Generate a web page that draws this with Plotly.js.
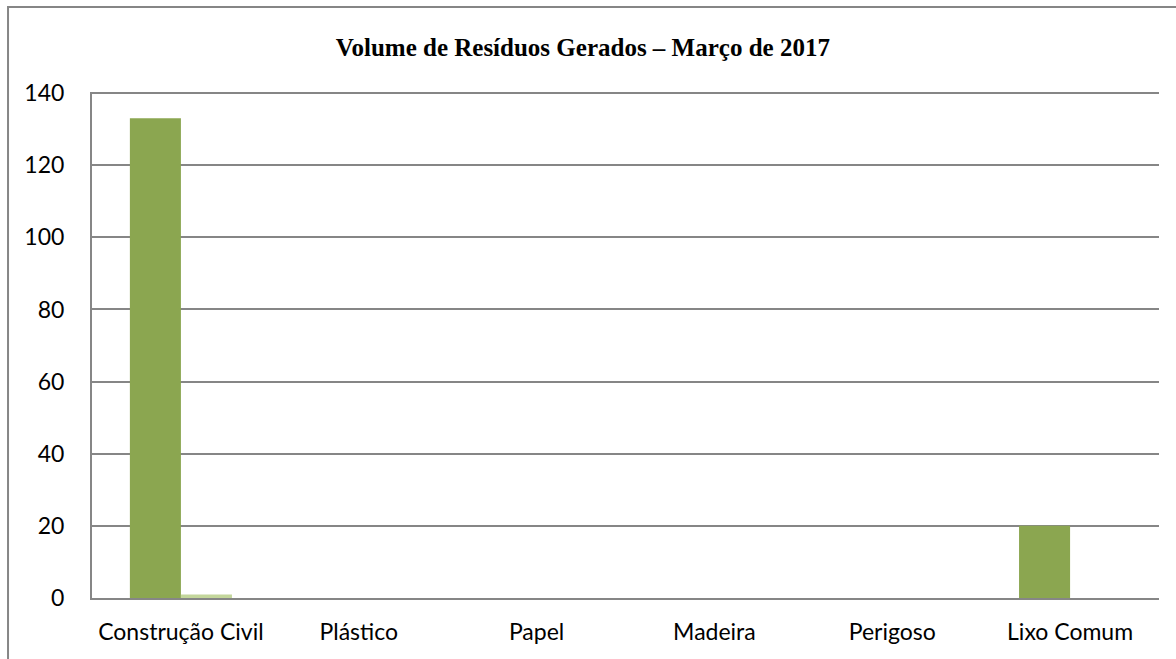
<!DOCTYPE html>
<html>
<head>
<meta charset="utf-8">
<script src="https://cdn.plot.ly/plotly-3.0.1.min.js"></script>
<style>html,body{margin:0;padding:0;background:#fff;}#chart{width:1176px;height:659px;}</style>
</head>
<body>
<div id="chart"></div>
<script>
const categories = ["Construção Civil", "Plástico", "Papel", "Madeira", "Perigoso", "Lixo Comum"];
const seriesA = [133, 0, 0, 0, 0, 20];
const seriesB = [1, 0, 0, 0, 0, 0];
const yTicks = [0, 20, 40, 60, 80, 100, 120, 140];

const traces = [
  {type: "bar", x: categories, y: seriesA, marker: {color: "#8BA650", line: {width: 0}}, hoverinfo: "x+y"},
  {type: "bar", x: categories, y: seriesB, marker: {color: "#C3D69B", line: {width: 0}}, hoverinfo: "x+y"}
];

const gray = "#868686";
const layout = {
  width: 1176, height: 659,
  margin: {l: 92, r: 17, t: 92, b: 61},
  paper_bgcolor: "#fff", plot_bgcolor: "#fff",
  showlegend: false,
  barmode: "group", bargap: 0.426, bargroupgap: 0,
  title: {text: "<b>Volume de Resíduos Gerados – Março de 2017</b>", x: 0.46, xref: "paper", xanchor: "center", y: 0.928, yanchor: "middle",
          font: {family: "Liberation Serif, Times New Roman, serif", size: 25, color: "#000"}},
  font: {family: "Lato, Calibri, sans-serif", color: "#000"},
  xaxis: {type: "category", showgrid: false, showline: true, linecolor: gray, linewidth: 2,
          ticks: "", tickfont: {size: 23, color: "#000"}, ticklabelstandoff: 12, fixedrange: true},
  yaxis: {range: [0, 140.3], tickvals: yTicks, showgrid: true, gridcolor: gray, gridwidth: 2,
          showline: true, linecolor: gray, linewidth: 2, zeroline: false,
          ticks: "", tickfont: {size: 23, color: "#000"}, ticklabelstandoff: 21, fixedrange: true},
  shapes: [
    {type: "rect", xref: "paper", yref: "paper", x0: -0.0787, x1: 1.2, y0: -0.3, y1: 1.168,
     line: {color: gray, width: 2}, fillcolor: "rgba(0,0,0,0)", layer: "below"}
  ]
};

Plotly.newPlot("chart", traces, layout, {displayModeBar: false, staticPlot: true});
</script>
</body>
</html>
